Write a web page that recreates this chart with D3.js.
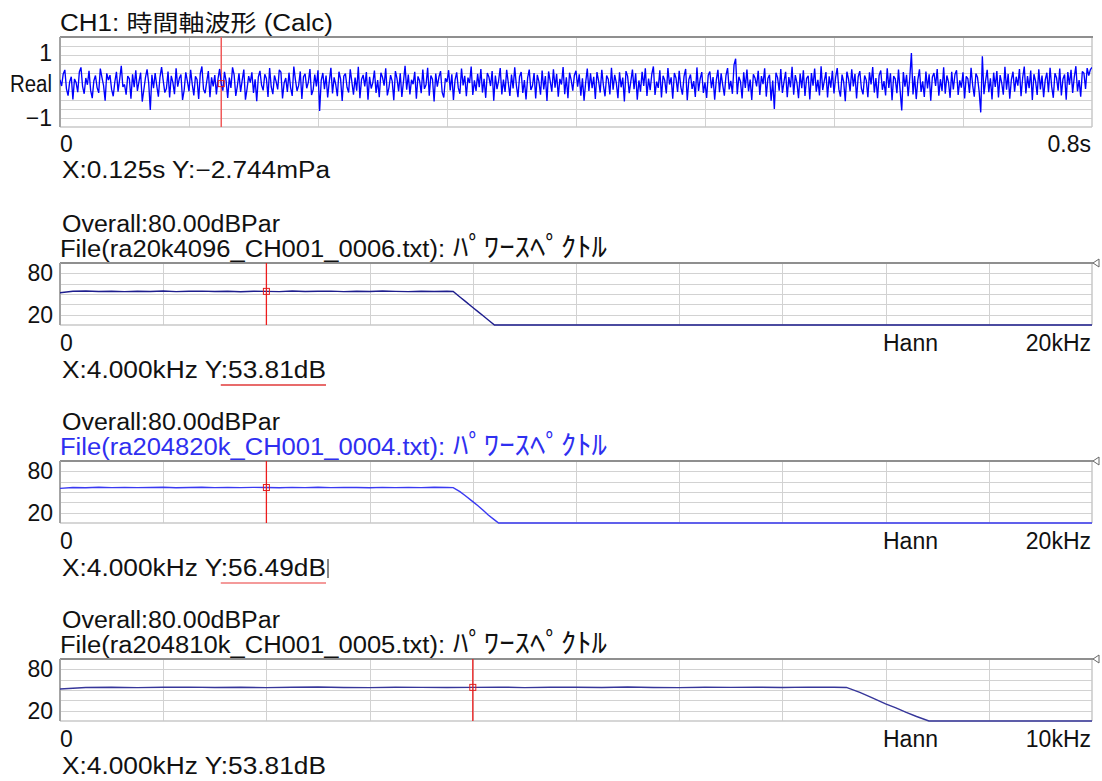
<!DOCTYPE html>
<html>
<head>
<meta charset="utf-8">
<script src="https://cdn.jsdelivr.net/npm/d3@7"></script>
<style>
  body { margin: 0; background: #fff; }
  svg { display: block; font-family: "Liberation Sans", "Noto Sans CJK JP", sans-serif; }
</style>
</head>
<body>
<svg id="chart" width="1102" height="781"></svg>
<script>
// ---------- time waveform (CH1) ----------
const waveTitle = "CH1: 時間軸波形 (Calc)";
const waveSampleInterval = 1 / 800;          // seconds per sample
const waveSpanSec = 0.8;
// sound pressure, hundredths of a pascal
const waveCentiPa = [
  12, -8, 31, 44, -17, -39, 6, 22, -51, 15, 3, -28, 37, 52, -9, -33, 18, -4, 41, -22,
  -47, 9, 26, -13, -30, 48, 20, -6, -55, 33, 11, 27, -19, -41, 5, 38, -26, 14, 57, -11,
  -3, -36, 24, 16, -49, 30, -12, 43, -24, 7, 35, -58, -20, 19, 46, 2, -85, 28, -15, 34,
  -7, -42, 21, 53, 10, -29, -16, 39, -45, 25, 4, -34, 49, -10, 17, 29, -53, -21, 36, 8,
  -25, 44, -2, -38, 23, 13, -50, 32, 55, -18, -31, 6, 40, -44, 20, -9, 27, -35, 15, 47,
  -0.2744, -23, 38, 9, -46, 19, -14, 52, 28, -40, -8, 33, -27, 11, 45, -52, -17, 24, 3, 36,
  -30, 14, -57, 21, 41, -5, -22, 30, 16, -43, 50, -11, -34, 26, 7, -19, 44, 37, -48, 2,
  18, -27, 35, -13, -40, 55, 12, -24, -6, 39, -50, 22, 31, -15, 4, 47, -37, -20, 29, -9,
  43, -88, 10, 34, -18, 26, -45, 7, 51, -32, 20, -3, -41, 38, 15, -56, 24, 32, -12, -29,
  46, 5, -36, 19, -23, 54, -47, 13, 28, -9, 37, -52, 22, -16, 3, 42, -30, 11, -44, 35,
  20, -7, 49, -38, -13, 27, 8, -54, 40, 16, -25, 33, -43, 6, 57, -20, 29, -35, 12, -2,
  38, -49, 23, 9, -31, 45, -17, -4, 51, -39, 26, 14, -58, 32, -10, 21, 40, -28, -45, 17,
  5, 43, -22, 30, -53, 12, 36, -14, -33, 48, -6, 25, -41, 19, 2, 55, -37, 10, -24, 31,
  -12, 47, -29, 15, -46, 34, 21, -8, 40, -55, 26, -18, 9, 50, -35, 13, -27, 44, 3, -40,
  29, -16, 52, -5, -44, 23, 37, -30, 11, -51, 18, 45, -21, -7, 34, -48, 28, 6, -36, 42,
  -19, 24, -56, 39, 8, -26, 46, -13, 31, -42, 15, -3, 53, -34, 20, -47, 35, 12, -23, 27,
  41, -10, 30, -39, 17, -55, 4, 48, -24, 33, -15, 22, -50, 37, 9, -29, 44, -6, -41, 26,
  14, -35, 51, -20, 28, 2, -47, 36, -12, 19, -58, 40, 24, -31, 7, 45, -18, 33, -52, 10,
  -26, 38, -8, 49, -40, 16, -21, 30, 55, -37, 6, -14, 43, -45, 25, 11, -32, 50, -3, 20,
  -49, 34, 18, -27, 41, -11, -36, 23, 47, -54, 13, 29, -17, 8, -43, 52, -24, 15, 37, -30,
  4, -46, 27, 39, -15, 21, -52, 11, 44, -28, 33, -5, -39, 26, 50, -19, 9, -33, 60, 80,
  -34, 22, 7, -48, 36, -14, 45, -25, 13, -53, 30, 18, -9, 41, -37, 24, -2, 49, -42, 16,
  28, -55, 10, -82, 35, 19, -23, 47, -30, 6, 38, -44, 21, -12, 54, -36, 27, 3, -47, 32,
  -15, 43, -40, 17, 25, -51, 34, -7, 48, -26, 12, -38, 56, -21, 9, 37, -45, 23, -13, 41,
  -32, 20, 50, -18, -42, 29, 5, -57, 38, 14, -25, 46, -9, 31, -48, 22, 40, -16, -35, 26,
  11, -44, 36, -3, 53, -29, 18, -47, 27, 42, -20, 8, -38, 49, -14, 33, -54, 24, 15, -31,
  45, -22, -87, 37, -10, 28, -41, 19, 98, -35, 24, -50, 12, 46, -27, 7, -43, 39, -16, 30,
  -55, 21, 34, -8, 47, -39, 14, -24, 52, -33, 26, 5, -46, 38, -19, 29, 43, -37, 10, -13,
  36, -48, 23, 16, -30, 51, -6, -42, 32, 20, -25, -93, 88, -34, 9, 44, -28, 17, -51, 35,
  -11, 40, -45, 27, 2, -36, 54, -20, 31, -49, 13, 38, -26, 22, -7, 47, -41, 18, 55, -32,
  24, -15, 42, -53, 30, 8, -37, 46, -19, 26, -44, 12, 35, -28, 51, -10, -46, 33, 19, -23,
  48, -38, 15, 29, -52, 37, -4, 44, -30, 21, 56, -25, 11, -42, 39, 33, -17, 50, 26, 45,
  52
];
const waveAxisLabels = ["1", "Real", "−1"];
const waveAxisValues = [1, 0, -1];
const waveCursorSec = 0.125;
const waveCursorMilliPa = -2.744;

// ---------- power spectra ----------
const specFreqKHz = [
  0, 0.25, 0.5, 0.75, 1, 1.25, 1.5, 1.75, 2, 2.25, 2.5, 2.75, 3, 3.25, 3.5, 3.75,
  4, 4.25, 4.5, 4.75, 5, 5.25, 5.5, 5.75, 6, 6.25, 6.5, 6.75, 7, 7.25, 7.5,
  7.62, 7.75, 7.85, 8.0, 8.1, 8.2, 8.3, 8.42, 8.5, 10, 20
];
const specLevelA = [
  51.8, 53.9, 54.3, 53.6, 54.1, 53.4, 54.0, 53.7, 54.4, 53.5, 53.9, 54.2, 53.6, 54.0, 53.3, 54.1,
  53.81, 53.5, 54.3, 53.7, 53.9, 54.2, 53.5, 54.0, 53.6, 54.3, 53.8, 53.4, 54.1, 53.7, 54.0,
  53.6, 45.7, 39.6, 30.5, 24.4, 18.4, 12.3, 5, 5, 5, 5
];
const specLevelB = [
  55.2, 56.6, 56.2, 56.8, 56.4, 56.7, 56.3, 56.6, 56.9, 56.2, 56.5, 56.8, 56.3, 56.6, 56.4, 56.7,
  56.49, 56.2, 56.7, 56.4, 56.8, 56.3, 56.6, 56.5, 56.2, 56.7, 56.4, 56.6, 56.3, 56.8, 56.5,
  56.3, 50.5, 45.0, 36.0, 30.0, 23.5, 16.5, 9.5, 5, 5, 5
];
const specLevelC = [
  51.5, 53.7, 54.1, 53.5, 53.9, 54.2, 53.6, 54.0, 53.4, 53.9, 54.3, 53.7, 53.5, 54.1, 53.8, 53.6,
  53.81, 54.2, 53.5, 53.9, 54.0, 53.6, 54.3, 53.7, 53.5, 54.1, 53.8, 54.0, 53.6, 54.2, 53.9,
  53.7, 46.5, 40.0, 30.0, 24.0, 17.5, 11.5, 5, 5, 5, 5
];
const specFiles = ["ra20k4096_CH001_0006.txt", "ra204820k_CH001_0004.txt", "ra204810k_CH001_0005.txt"];
const specKind = "ﾊﾟﾜｰｽﾍﾟｸﾄﾙ";
const specSpanKHz = [20, 20, 10];
const specOverallDb = [80.00, 80.00, 80.00];
const specCursorKHz = [4, 4, 4];
const specCursorDb = [53.81, 56.49, 53.81];
const specAxisTicks = [80, 20];
const specWindow = "Hann";

// ---------- drawing ----------
const svg = d3.select("#chart");
const L = 60, R = 1092;
const FS = 23;

function label(parent, txt, x, y, o = {}) {
  const t = parent.append("text")
    .attr("x", x).attr("y", y)
    .attr("font-size", o.size || FS)
    .attr("fill", o.fill || "#111")
    .attr("text-anchor", o.anchor || "start")
    .text(txt);
  if (o.central) t.attr("dominant-baseline", "central");
  if (o.width) t.attr("textLength", o.width).attr("lengthAdjust", "spacingAndGlyphs");
  return t;
}

function frame(g, top, bottom, xScale, yScale, xGrid, yGrid, id) {
  g.append("rect").attr("x", L).attr("y", top).attr("width", R - L).attr("height", bottom - top)
    .attr("fill", "#fff");
  const grid = g.append("g").attr("stroke", "#d2d2d2").attr("stroke-width", 1).attr("shape-rendering", "crispEdges");
  grid.selectAll(".v").data(xGrid).join("line")
    .attr("x1", d => Math.round(xScale(d)) + 0.5).attr("x2", d => Math.round(xScale(d)) + 0.5)
    .attr("y1", top).attr("y2", bottom);
  grid.selectAll(".h").data(yGrid).join("line")
    .attr("y1", d => Math.round(yScale(d)) + 0.5).attr("y2", d => Math.round(yScale(d)) + 0.5)
    .attr("x1", L).attr("x2", R);
  // outer frame: light right/bottom, darker top/left
  g.append("line").attr("x1", R).attr("x2", R).attr("y1", top).attr("y2", bottom)
    .attr("stroke", "#c8c8c8").attr("stroke-width", 1.5);
  g.append("line").attr("x1", L).attr("x2", R).attr("y1", bottom).attr("y2", bottom)
    .attr("stroke", "#c8c8c8").attr("stroke-width", 1.5);
  g.append("line").attr("x1", L).attr("x2", R + 1).attr("y1", top).attr("y2", top)
    .attr("stroke", "#8f8f8f").attr("stroke-width", 2);
  g.append("line").attr("x1", L).attr("x2", L).attr("y1", top).attr("y2", bottom)
    .attr("stroke", "#a4a4a4").attr("stroke-width", 2);
  svg.append("defs").append("clipPath").attr("id", id)
    .append("rect").attr("x", L).attr("y", top - 2).attr("width", R - L).attr("height", bottom - top + 4);
}

// ---- waveform panel ----
{
  const top = 37, bottom = 127;
  const g = svg.append("g");
  const x = d3.scaleLinear().domain([0, waveSpanSec]).range([L, R]);
  const y = d3.scaleLinear().domain([-1.4, 1.5]).range([bottom, top]);
  const xGrid = d3.range(1, 8).map(k => k * 0.1);
  const yGrid = d3.range(1, 10).map(k => -1.4 + k * 0.29);
  frame(g, top, bottom, x, y, xGrid, yGrid, "clipWave");

  label(g, waveTitle, 60, 31, { width: 273 });
  waveAxisLabels.forEach((s, i) => {
    const off = i === 2 ? 3.5 : 0;
    label(g, s, 52, y(waveAxisValues[i]) + off, { anchor: "end", central: true, width: i === 1 ? 42 : null });
  });
  label(g, "0", 60, 151.5);
  label(g, waveSpanSec + "s", 1091, 152, { anchor: "end" });

  const cx = x(waveCursorSec), cy = y(waveCursorMilliPa / 1000);
  g.append("line").attr("x1", cx).attr("x2", cx).attr("y1", top).attr("y2", bottom)
    .attr("stroke", "#f05a5a").attr("stroke-width", 1.5);

  const line = d3.line()
    .x((d, i) => x(i * waveSampleInterval))
    .y(d => y(d / 100));
  g.append("path").datum(waveCentiPa)
    .attr("clip-path", "url(#clipWave)")
    .attr("d", line).attr("fill", "none")
    .attr("stroke", "#0000ff").attr("stroke-width", 1.35).attr("stroke-linejoin", "bevel");

  g.append("rect").attr("x", cx - 3).attr("y", cy - 3).attr("width", 6).attr("height", 6)
    .attr("fill", "none").attr("stroke", "#e02020").attr("stroke-width", 1);

  label(g, `X:${waveCursorSec.toFixed(3)}s Y:${waveCursorMilliPa.toFixed(3).replace("-", "−")}mPa`, 62, 178, { width: 268 });
}

// ---- spectrum panels ----
const specTops = [263, 461, 659];
const specLevels = [specLevelA, specLevelB, specLevelC];
const specLineColors = ["#1e1e8e", "#3a3af2", "#36369a"];
const fileColors = ["#111", "#2f2ff0", "#111"];
const readoutUnderline = ["#e03a3a", "#f07878", null];

specTops.forEach((top, p) => {
  const bottom = top + 62;
  const g = svg.append("g");
  const x = d3.scaleLinear().domain([0, specSpanKHz[p]]).range([L, R]);
  const y = d3.scaleLinear().domain([5, 95]).range([bottom, top]);
  const xGrid = d3.range(1, 10).map(k => k * specSpanKHz[p] / 10);
  const yGrid = [20, 35, 50, 65, 80];
  frame(g, top, bottom, x, y, xGrid, yGrid, "clipSpec" + p);

  label(g, `Overall:${specOverallDb[p].toFixed(2)}dBPar`, 62, top - 31.5, { width: 218 });
  label(g, `File(${specFiles[p]}):`, 60, top - 6.5, { width: 385, fill: fileColors[p] });
  label(g, specKind, 453, top - 6.5, { width: 154, size: 27, fill: fileColors[p] });

  specAxisTicks.forEach(v => label(g, String(v), 53, y(v), { anchor: "end", central: true }));
  label(g, "0", 60, top + 88);
  label(g, specWindow, 883, top + 88);
  label(g, specSpanKHz[p] + "kHz", 1091, top + 88, { anchor: "end" });

  const data = specFreqKHz.map((f, i) => [f, specLevels[p][i]]);
  g.append("path").datum(data)
    .attr("clip-path", `url(#clipSpec${p})`)
    .attr("d", d3.line().x(d => x(d[0])).y(d => y(d[1])))
    .attr("fill", "none").attr("stroke", specLineColors[p]).attr("stroke-width", 1.4);

  const cx = x(specCursorKHz[p]), cy = y(specCursorDb[p]);
  g.append("line").attr("x1", cx).attr("x2", cx).attr("y1", top).attr("y2", bottom)
    .attr("stroke", "#ee1c1c").attr("stroke-width", 1.3);
  g.append("rect").attr("x", cx - 3).attr("y", cy - 3).attr("width", 6).attr("height", 6)
    .attr("fill", "none").attr("stroke", "#e02020").attr("stroke-width", 1);

  // small marker on the right edge
  g.append("path")
    .attr("d", `M${R + 7},${top - 4} L${R + 1},${top} L${R + 7},${top + 4} Z`)
    .attr("fill", "#fff").attr("stroke", "#666").attr("stroke-width", 1);

  const ro = label(g, `X:${specCursorKHz[p].toFixed(3)}kHz Y:${specCursorDb[p].toFixed(2)}dB`, 62, top + 115, { width: 264 });
  if (readoutUnderline[p]) {
    const n = ro.node();
    const s = ro.text().indexOf(":", 5);
    const x0 = n.getStartPositionOfChar(s).x;
    const x1 = n.getEndPositionOfChar(ro.text().length - 1).x;
    g.append("line").attr("x1", x0).attr("x2", x1).attr("y1", top + 122).attr("y2", top + 122)
      .attr("stroke", readoutUnderline[p]).attr("stroke-width", 1.5);
    if (p === 1) {
      g.append("line").attr("x1", x1 + 2).attr("x2", x1 + 2).attr("y1", top + 98).attr("y2", top + 117)
        .attr("stroke", "#111").attr("stroke-width", 1);
    }
  }
});
</script>
</body>
</html>
